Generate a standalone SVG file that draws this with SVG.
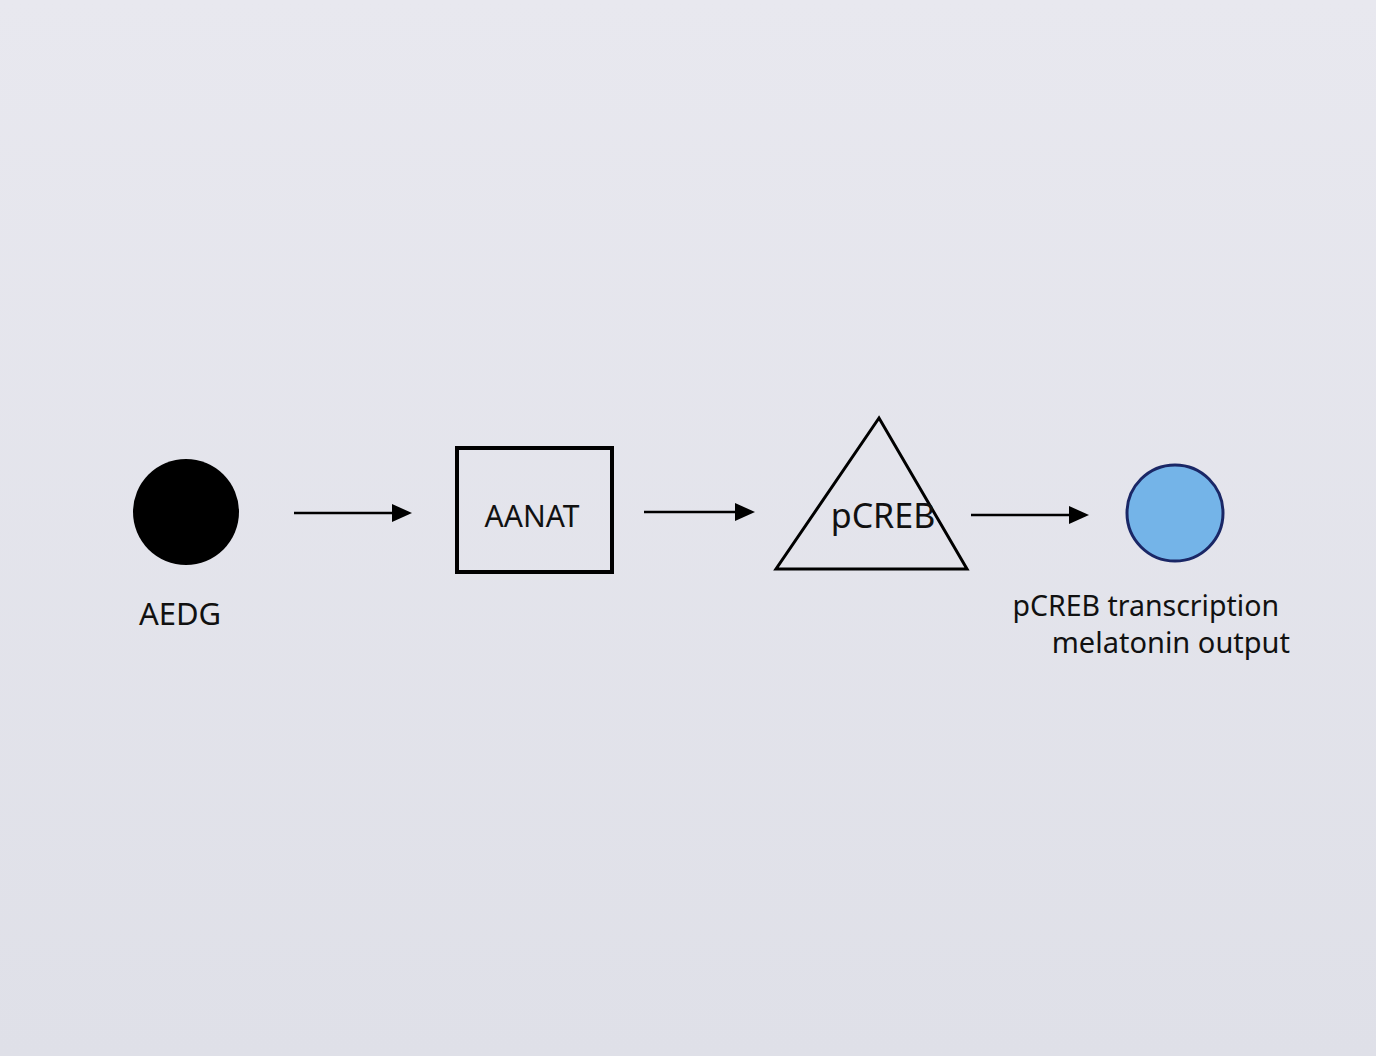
<svg xmlns="http://www.w3.org/2000/svg" width="1376" height="1056" viewBox="0 0 1376 1056">
<defs>
<linearGradient id="bg" x1="0" y1="0" x2="0" y2="1">
<stop offset="0" stop-color="#e8e8ef"/>
<stop offset="1" stop-color="#dfe0e8"/>
</linearGradient>
</defs>
<style>
text{font-family:"Noto Sans","Open Sans",sans-serif;fill:#111}
.edge{stroke:#000;stroke-width:2.5;fill:none}
.head{fill:#000}
</style>
<rect width="1376" height="1056" fill="url(#bg)"/>
<g id="connectors">
<line class="edge" x1="294" y1="513" x2="395" y2="513"/>
<path class="head" d="M392,504 L412,513 L392,522 z"/>
<line class="edge" x1="644" y1="512" x2="738" y2="512"/>
<path class="head" d="M735,503 L755,512 L735,521 z"/>
<line class="edge" x1="971" y1="515" x2="1072" y2="515"/>
<path class="head" d="M1069,506 L1089,515 L1069,524 z"/>
</g>
<g id="node-aedg">
<circle cx="186" cy="512" r="53" fill="#000"/>
<text x="180" y="625" font-size="31" text-anchor="middle">AEDG</text>
</g>
<g id="node-aanat">
<rect x="457" y="448" width="155" height="124" fill="none" stroke="#000" stroke-width="4"/>
<text x="532" y="527" font-size="30" text-anchor="middle">AANAT</text>
</g>
<g id="node-pcreb">
<path d="M879,418 L776,569 L967,569 Z" fill="none" stroke="#000" stroke-width="3"/>
<text x="883" y="528" font-size="34" text-anchor="middle">pCREB</text>
</g>
<g id="node-output">
<circle cx="1175" cy="513" r="48" fill="#74b4e8" stroke="#1a2766" stroke-width="3"/>
<text x="1279" y="616" font-size="28.5" text-anchor="end">pCREB transcription</text>
<text x="1290" y="653" font-size="29" text-anchor="end">melatonin output</text>
</g>
</svg>
